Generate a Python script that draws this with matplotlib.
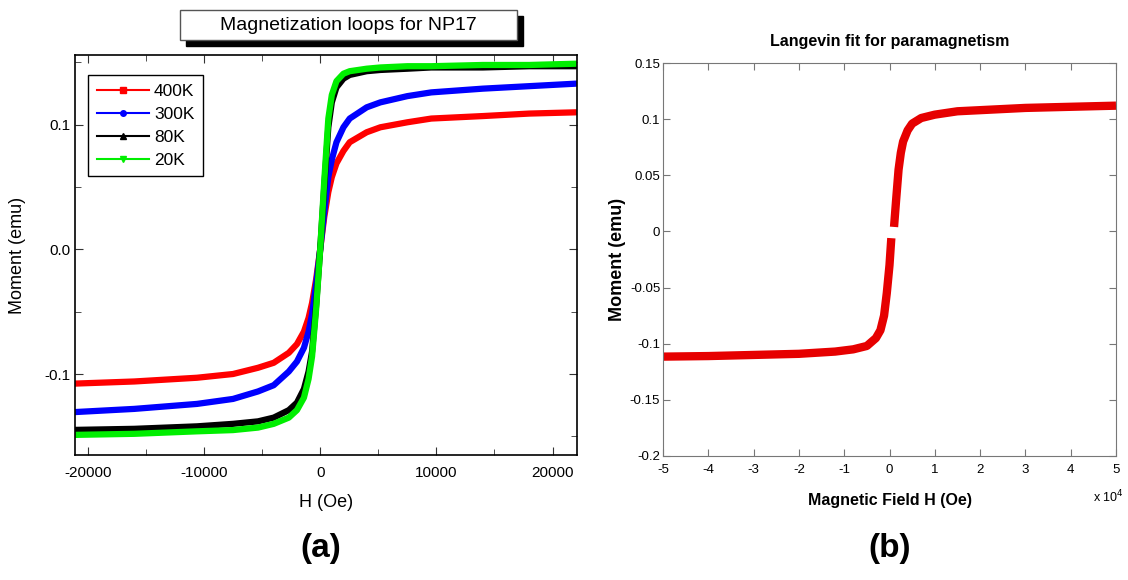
import numpy as np
import matplotlib
matplotlib.use("Agg")
import matplotlib.pyplot as plt
from matplotlib.patches import Rectangle
from matplotlib.lines import Line2D
from matplotlib.ticker import MultipleLocator, FuncFormatter

plt.rcParams['font.family'] = ['Liberation Sans', 'DejaVu Sans']
plt.rcParams['axes.unicode_minus'] = False

# ---- panel (a): magnetization loops for NP17 ----
H_a = [-22000, -16000, -10600, -7500, -5350, -4000, -2700, -2000, -1400, -1000, -700, -350, 0,
       350, 700, 1000, 1400, 2000, 2540, 4000, 5180, 7500, 9560, 14000, 18000, 22000]

M_400K = [-0.108, -0.106, -0.103, -0.100, -0.095, -0.091, -0.083, -0.076, -0.066, -0.055, -0.043, -0.024, 0.0,
          0.026, 0.046, 0.058, 0.069, 0.079, 0.086, 0.094, 0.098, 0.102, 0.105, 0.107, 0.109, 0.110]
M_300K = [-0.131, -0.128, -0.124, -0.120, -0.114, -0.109, -0.098, -0.090, -0.079, -0.066, -0.052, -0.028, 0.0,
          0.030, 0.058, 0.072, 0.086, 0.098, 0.105, 0.114, 0.118, 0.123, 0.126, 0.129, 0.131, 0.133]
M_80K = [-0.145, -0.144, -0.142, -0.140, -0.138, -0.135, -0.129, -0.123, -0.112, -0.098, -0.082, -0.045, 0.0,
         0.050, 0.098, 0.118, 0.130, 0.137, 0.140, 0.143, 0.144, 0.145, 0.146, 0.146, 0.147, 0.147]
M_20K = [-0.149, -0.148, -0.146, -0.145, -0.143, -0.140, -0.135, -0.129, -0.119, -0.104, -0.086, -0.048, 0.0,
         0.055, 0.105, 0.124, 0.135, 0.141, 0.143, 0.145, 0.146, 0.147, 0.147, 0.148, 0.148, 0.149]

labels_a = ['400K', '300K', '80K', '20K']
colors_a = ['#ff0000', '#0000ff', '#000000', '#00ee00']
markers_a = ['s', 'o', '^', 'v']

# ---- panel (b): Langevin fit ----
H_neg = [-50000, -40000, -30000, -20000, -12000, -8000, -5000, -3000, -2000, -1200, -600, 0, 400]
M_neg = [-0.1115, -0.111, -0.110, -0.109, -0.107, -0.105, -0.102, -0.095, -0.088, -0.075, -0.055, -0.030, -0.006]
H_pos = [1000, 1500, 2000, 2500, 3000, 4000, 5000, 7000, 10000, 15000, 20000, 30000, 40000, 50000]
M_pos = [0.004, 0.030, 0.055, 0.070, 0.080, 0.090, 0.096, 0.101, 0.104, 0.107, 0.108, 0.110, 0.111, 0.112]

fig = plt.figure(figsize=(11.28, 5.8), dpi=100)

# left panel
ax = fig.add_axes([75/1128., 125/580., 502/1128., 400/580.])
handles = []
for M, lab, c, mk in zip([M_400K, M_300K, M_80K, M_20K], labels_a, colors_a, markers_a):
	ax.plot(H_a, M, color=c, lw=4.5, solid_capstyle='round', solid_joinstyle='round')
	handles.append(Line2D([], [], color=c, lw=1.5, marker=mk, ms=4, label=lab))

ax.set_xlim(-21100, 22100)
ax.set_ylim(-0.165, 0.156)
ax.xaxis.set_major_locator(MultipleLocator(10000))
ax.xaxis.set_minor_locator(MultipleLocator(5000))
ax.yaxis.set_major_locator(MultipleLocator(0.1))
ax.yaxis.set_minor_locator(MultipleLocator(0.05))
ax.yaxis.set_major_formatter(FuncFormatter(lambda v, p: '%.1f' % v))
ax.tick_params(axis='both', which='both', direction='in', top=True, right=True, labelsize=11, color='#333333')
ax.tick_params(which='major', length=6)
ax.tick_params(which='minor', length=4)
ax.tick_params(axis='x', pad=8)
for s in ax.spines.values():
	s.set_linewidth(1.2)
ax.set_xlabel('H (Oe)', fontsize=13, labelpad=10)
ax.set_ylabel('Moment (emu)', fontsize=13, labelpad=13)

leg = ax.legend(handles=handles, loc='upper left', bbox_to_anchor=(0.026, 0.95), fontsize=12.5, fancybox=False,
	edgecolor='black', framealpha=1.0, numpoints=1, handlelength=3.0, labelspacing=0.45,
	handletextpad=0.3, borderpad=0.5, borderaxespad=0.)
leg.get_frame().set_linewidth(1.0)

# title box with shadow
fig.add_artist(Rectangle((186/1128., (580-46)/580.), 337/1128., 30/580., transform=fig.transFigure,
	facecolor='black', edgecolor='black'))
fig.add_artist(Rectangle((180/1128., (580-40)/580.), 337/1128., 30/580., transform=fig.transFigure,
	facecolor='white', edgecolor='#555555', lw=1.0))
fig.text(348/1128., (580-25)/580., 'Magnetization loops for NP17', ha='center', va='center', fontsize=14)

# right panel
ax2 = fig.add_axes([663/1128., 124/580., 453/1128., 393/580.])
ax2.plot(H_neg, M_neg, color='#e60000', lw=6, solid_capstyle='butt')
ax2.plot(H_pos, M_pos, color='#e60000', lw=6, solid_capstyle='butt')
ax2.set_xlim(-50000, 50000)
ax2.set_ylim(-0.2, 0.15)
ax2.xaxis.set_major_locator(MultipleLocator(10000))
ax2.yaxis.set_major_locator(MultipleLocator(0.05))
ax2.xaxis.set_major_formatter(FuncFormatter(lambda v, p: '%d' % round(v/10000.)))
ax2.yaxis.set_major_formatter(FuncFormatter(lambda v, p: '%g' % round(v, 2)))
ax2.tick_params(axis='both', direction='in', top=True, right=True, length=5, color='#777777', labelsize=9.5)
ax2.tick_params(axis='x', pad=6)
ax2.tick_params(axis='y', pad=2)
for s in ax2.spines.values():
	s.set_color('#777777')
ax2.set_title('Langevin fit for paramagnetism', fontsize=11.5, fontweight='bold', pad=12)
ax2.set_xlabel('Magnetic Field H (Oe)', fontsize=11.5, fontweight='bold', labelpad=12)
ax2.set_ylabel('Moment (emu)', fontsize=13, fontweight='bold', labelpad=3)
fig.text(1124/1128., (580-497)/580., r'x 10$^4$', ha='right', va='center', fontsize=9)

# panel letters
fig.text(321/1128., (580-548)/580., '(a)', ha='center', va='center', fontsize=24, fontweight='bold')
fig.text(890/1128., (580-548)/580., '(b)', ha='center', va='center', fontsize=24, fontweight='bold')

fig.savefig('out.png', dpi=100)
plt.close()
